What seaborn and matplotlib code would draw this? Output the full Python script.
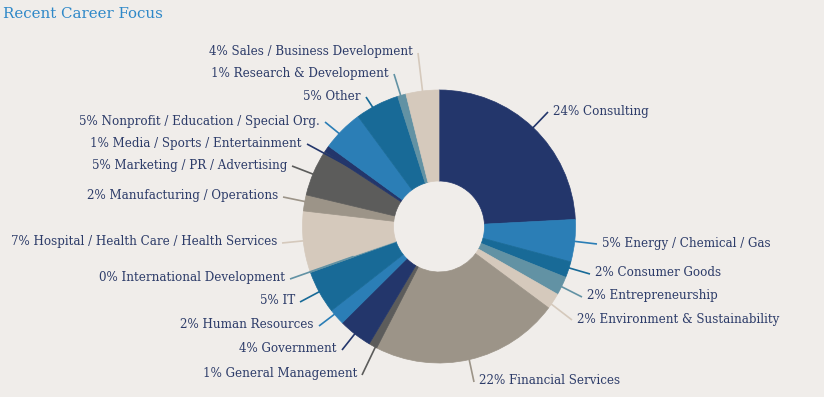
import numpy as np
import matplotlib
matplotlib.use("Agg")
from matplotlib import pyplot as plt
import seaborn as sns

# career focus shares (percent), clockwise from 12 o'clock
categories = ["Consulting", "Energy / Chemical / Gas", "Consumer Goods", "Entrepreneurship",
              "Environment & Sustainability", "Financial Services", "General Management",
              "Government", "Human Resources", "IT", "International Development",
              "Hospital / Health Care / Health Services", "Manufacturing / Operations",
              "Marketing / PR / Advertising", "Media / Sports / Entertainment",
              "Nonprofit / Education / Special Org.", "Other", "Research & Development",
              "Sales / Business Development"]
shares = [24.2, 5.0, 1.9, 2.2, 1.9, 22.4, 1.0, 4.0, 1.9, 5.1, 0.2, 7.1, 1.9, 5.5, 0.8, 4.9, 5.2, 1.0, 3.9]
shown_pct = [24, 5, 2, 2, 2, 22, 1, 4, 2, 5, 0, 7, 2, 5, 1, 5, 5, 1, 4]

# label layout: end of the connector (pixels) and side of the text
label_ends = [(548, 112), (597, 244), (590, 274), (582, 297), (572, 320), (474, 382),
              (362, 375), (342, 350), (319, 326), (300, 302), (290, 279), (282, 243),
              (283, 197), (292, 166), (307, 144), (325, 122), (366, 97), (394, 74), (418, 53)]
label_side = ["r"] * 6 + ["l"] * 13

bg = "#f0edea"
text_col = "#2d3c69"
palette = sns.color_palette(["#23366b", "#2b7eb6", "#186a97", "#6292a4",
                             "#d5c9bc", "#9c9488", "#5c5c5b"])
cols = [palette[i % len(palette)] for i in range(len(shares))]

sns.set_style("white", {"axes.facecolor": bg, "figure.facecolor": bg})
plt.rcParams["font.family"] = ["DejaVu Serif"]

fig = plt.figure(figsize=(8.24, 3.97), dpi=100, facecolor=bg)
ax = fig.add_axes([0, 0, 1, 1])
cx, cy, r_out, r_in = 439, 226.5, 136.5, 45.5
wedges, _ = ax.pie(shares, colors=cols, startangle=-90, counterclock=True,
                   radius=r_out, center=(cx, cy),
                   wedgeprops=dict(width=r_out - r_in, linewidth=0.5))
for w in wedges:
    w.set_edgecolor(w.get_facecolor())

for w, cat, pct, (ex, ey), side, c in zip(wedges, categories, shown_pct, label_ends, label_side, cols):
    mid = np.deg2rad((w.theta1 + w.theta2) / 2)
    sx, sy = cx + 90.6 * np.cos(mid), cy + 90.6 * np.sin(mid)
    ax.plot([sx, ex], [sy, ey], color=c, lw=1.2, solid_capstyle="butt", zorder=3)
    if side == "r":
        ax.text(ex + 5, ey - 1, f"{pct}% {cat}", ha="left", va="center", color=text_col, fontsize=8.6)
    else:
        ax.text(ex - 5, ey - 1, f"{pct}% {cat}", ha="right", va="center", color=text_col, fontsize=8.6)

ax.text(3, 13.5, "Recent Career Focus", ha="left", va="center", color="#2e88c8", fontsize=10.8)

ax.set_xlim(0, 824)
ax.set_ylim(397, 0)
ax.set_aspect("auto")
ax.axis("off")
fig.savefig("out.png", dpi=100, facecolor=bg)
